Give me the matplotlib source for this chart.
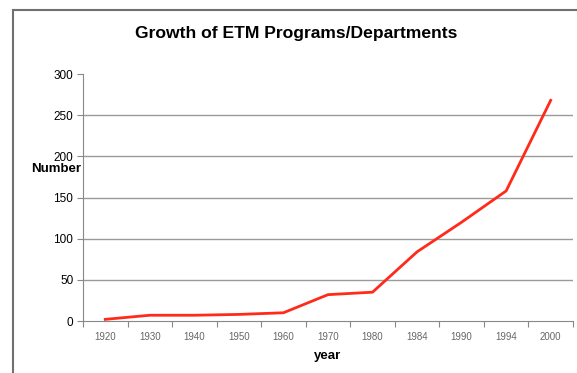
import matplotlib
matplotlib.use('Agg')
import matplotlib.pyplot as plt
import numpy as np
from matplotlib.lines import Line2D

plt.rcParams['font.family'] = ['Liberation Sans', 'DejaVu Sans']

# data
years = ['1920', '1930', '1940', '1950', '1960', '1970', '1980', '1984', '1990', '1994', '2000']
number = [2, 7, 7, 8, 10, 32, 35, 84, 120, 158, 268]
y_ticks = [0, 50, 100, 150, 200, 250, 300]
grid_vals = [50, 100, 150, 200, 250]

fig = plt.figure(figsize=(5.77, 3.73), dpi=100)
ax = fig.add_axes([0.1438, 0.1394, 0.8492, 0.6622])

x = np.arange(len(years))
ax.plot(x, number, color='#ff2a1a', linewidth=2, solid_joinstyle='miter', zorder=3)

#gridlines only between 0 and 300
for g in grid_vals:
    ax.axhline(g, color='#9a9a9a', linewidth=1, zorder=1)

ax.set_ylim(0, 300)
ax.set_xlim(-0.5, len(years) - 0.5)
ax.set_yticks(y_ticks)
ax.set_yticklabels([str(v) for v in y_ticks], fontsize=8.5)

#tick marks between categories, labels at categories
ax.set_xticks(np.arange(-0.5, len(years), 1.0))
ax.set_xticklabels([])
ax.set_xticks(x, minor=True)
ax.set_xticklabels(years, minor=True, fontsize=7, color='#666666')
ax.tick_params(axis='x', which='minor', length=0, pad=8)
ax.tick_params(axis='x', which='major', length=4, color='#888888', direction='out')
ax.tick_params(axis='y', length=4, color='#888888', direction='out', pad=3)

for s in ['top', 'right']:
    ax.spines[s].set_visible(False)
ax.spines['left'].set_color('#888888')
ax.spines['bottom'].set_color('#888888')

fig.text(0.513, 0.91, 'Growth of ETM Programs/Departments', ha='center', va='center',
         fontsize=12.6, fontweight='bold')
fig.text(0.097, 0.547, 'Number', ha='center', va='center', fontsize=9.5, fontweight='bold')
fig.text(0.567, 0.045, 'year', ha='center', va='center', fontsize=9.5, fontweight='bold')

#chart frame (runs off the right and bottom edges)
fig.add_artist(Line2D([13/577, 13/577], [0, 1 - 10/373], transform=fig.transFigure,
                      color='#707070', linewidth=1.5))
fig.add_artist(Line2D([13/577, 1], [1 - 10/373, 1 - 10/373], transform=fig.transFigure,
                      color='#707070', linewidth=1.5))

fig.savefig('out.png', dpi=100)
